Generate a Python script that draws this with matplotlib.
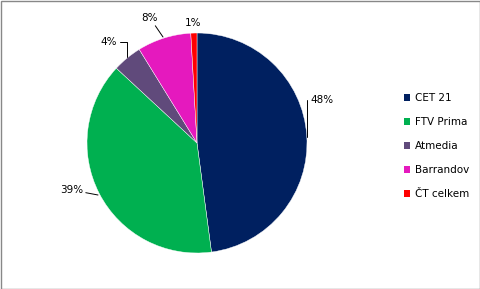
import matplotlib.pyplot as plt
from matplotlib.patches import Patch

plt.rcParams['font.family'] = ['DejaVu Sans']

labels = ['CET 21', 'FTV Prima', 'Atmedia', 'Barrandov', 'ČT celkem']
shares = [47.9, 39.0, 4.3, 7.9, 0.9]
colors = ['#002060', '#00B050', '#604A7B', '#E519BE', '#FF0000']
pct_labels = ['48%', '39%', '4%', '8%', '1%']

W, H = 481, 289
fig = plt.figure(figsize=(W / 100, H / 100), dpi=100)

# pie centred at pixel (197, 143), radius 110
cx, cy, r = 197, 143, 110
ax = fig.add_axes([(cx - r) / W, (H - cy - r) / H, 2 * r / W, 2 * r / H])
wedges, _ = ax.pie(shares, colors=colors, startangle=90, counterclock=False,
                   radius=1.0, wedgeprops=dict(edgecolor='white', linewidth=0.3))
ax.set_xlim(-1, 1)
ax.set_ylim(-1, 1)
ax.set_aspect('equal')


def px(x, y):
    return ((x - cx) / r, (cy - y) / r)


# label text positions (pixels) and leader line anchor on the pie edge
label_pos = [(310, 100, 'left'), (83, 190, 'right'), (117, 42, 'right'), (150, 18, 'center'), (193, 23, 'center')]
anchors = [(307, 137), (98, 195), (127, 57), (163, 37), None]
conns = ['angle,angleA=0,angleB=90,rad=0', 'arc3', 'angle,angleA=0,angleB=90,rad=0', 'arc3', None]

for txt, (tx, ty, ha), anc, cs in zip(pct_labels, label_pos, anchors, conns):
    if anc is None:
        ax.text(*px(tx, ty), txt, ha=ha, va='center', fontsize=7.5, color='black', clip_on=False)
    else:
        ax.annotate(txt, xy=px(*anc), xytext=px(tx, ty), ha=ha, va='center',
                    fontsize=7.5, color='black', annotation_clip=False,
                    arrowprops=dict(arrowstyle='-', color='black', lw=0.7,
                                    shrinkA=0, shrinkB=0, connectionstyle=cs))

handles = [Patch(facecolor=c, edgecolor='none') for c in colors]
fig.legend(handles, labels, loc='upper left', bbox_to_anchor=(399 / W, 1 - 88 / H),
           frameon=False, fontsize=7.5, handlelength=0.6, handleheight=0.6,
           handletextpad=0.4, labelspacing=1.35, borderpad=0)

# outer chart border
fig.patches.append(plt.Rectangle((0.5 / W, 0.5 / H), 1 - 1.5 / W, 1 - 1.5 / H,
                                 transform=fig.transFigure, fill=False,
                                 edgecolor='#888888', linewidth=1))

fig.savefig('out.png', dpi=100)
